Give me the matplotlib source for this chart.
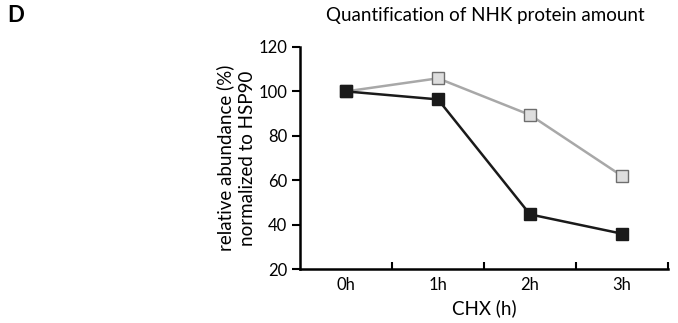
import matplotlib
matplotlib.use("Agg")
import matplotlib.pyplot as plt

plt.rcParams['font.family'] = ['Lato', 'DejaVu Sans']

categories = ["0h", "1h", "2h", "3h"]
black_vals = [100, 96.4, 44.6, 35.9]
gray_vals = [100, 105.9, 89.4, 61.9]
yticks = [20, 40, 60, 80, 100, 120]

fig = plt.figure(figsize=(6.78, 3.23), dpi=100)
ax = fig.add_axes([300/678, 54/323, 368/678, 222/323])

xs = [i + 0.5 for i in range(len(categories))]
ax.plot(xs, gray_vals, color='#a8a8a8', lw=1.8, marker='s', ms=9,
        mfc='#dedede', mec='#6e6e6e', mew=1.0, zorder=3)
ax.plot(xs, black_vals, color='#1a1a1a', lw=1.8, marker='s', ms=9,
        mfc='#1a1a1a', mec='#1a1a1a', mew=1.0, zorder=4)

ax.set_xlim(0, 4)
ax.set_ylim(20, 120)
ax.set_yticks(yticks)
ax.set_yticklabels([str(t) for t in yticks], fontsize=12)
ax.set_xticks([1, 2, 3, 4])
ax.set_xticklabels([])
ax.set_xticks(xs, minor=True)
ax.set_xticklabels(categories, minor=True, fontsize=12)
ax.tick_params(axis='x', which='minor', length=0, pad=6)
ax.tick_params(axis='x', which='major', direction='in', length=5, width=1.5)
ax.tick_params(axis='y', direction='out', length=6, width=1.5, pad=3)

for s in ['top', 'right']:
    ax.spines[s].set_visible(False)
for s in ['left', 'bottom']:
    ax.spines[s].set_linewidth(1.8)

ax.set_xlabel("CHX (h)", fontsize=13.5, labelpad=4)
ax.set_ylabel("relative abundance (%)\nnormalized to HSP90", fontsize=13.5, labelpad=2,
              linespacing=1.3)

fig.text(485/678, 1 - 15/323, "Quantification of NHK protein amount", ha='center', va='center', fontsize=13.5)
fig.text(7/678, 1 - 16/323, "D", ha='left', va='center', fontsize=16, fontweight='bold')

fig.savefig("out.png", dpi=100)
